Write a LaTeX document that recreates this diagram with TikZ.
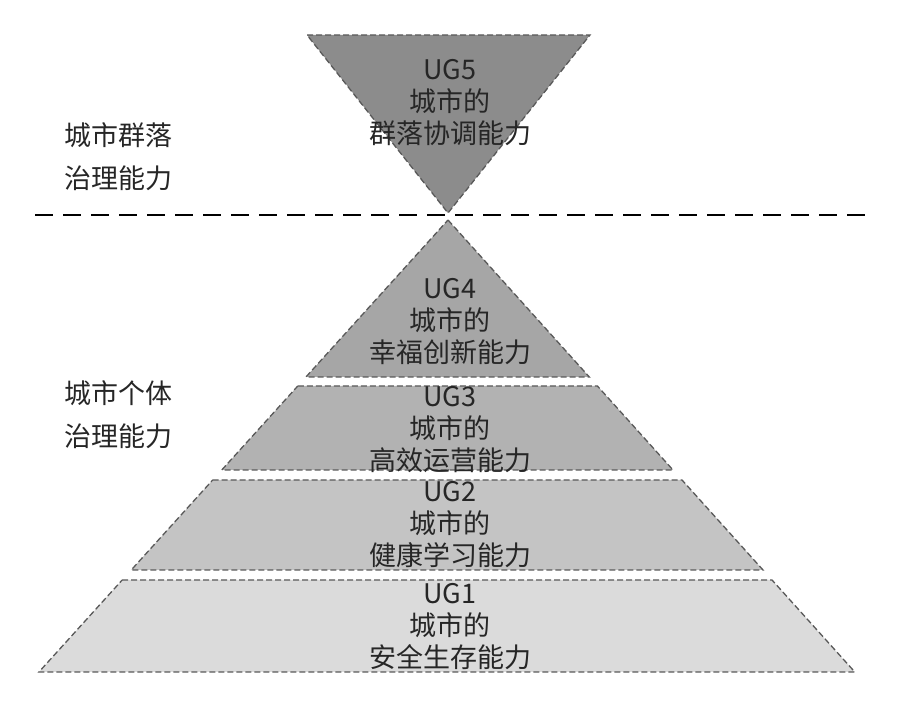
\documentclass[tikz,border=0pt]{standalone}
\usepackage{fontspec}
\setmainfont{Noto Sans CJK SC}
\begin{document}
\begin{tikzpicture}[x=1pt,y=-1pt,
  layer/.style={draw=black!65,dashed,line width=1.3pt,dash pattern=on 6pt off 3pt},
  lab/.style={font=\fontsize{27}{32}\selectfont,align=center,text=black!85,inner sep=0},
  side/.style={font=\fontsize{27}{43}\selectfont,align=left,text=black!85,inner sep=0,anchor=north west}]
\useasboundingbox (0,0) rectangle (898,708);
\def\L#1{448-0.905*(#1-220)}
\def\R#1{448+0.9*(#1-220)}
\filldraw[layer,fill=black!45] (307,35) -- (590,35) -- (448,213) -- cycle;
\draw[dashed,line width=1.5pt,dash pattern=on 18pt off 10pt] (35,215) coordinate(d1) -- (865,215) coordinate(d2);
\filldraw[layer,fill=black!35] (448,220) -- ({\R{377}},377) -- ({\L{377}},377) -- cycle;
\filldraw[layer,fill=black!30] ({\L{386}},386) -- ({\R{386}},386) -- ({\R{470}},470) -- ({\L{470}},470) -- cycle;
\filldraw[layer,fill=black!23] ({\L{480}},480) -- ({\R{480}},480) -- ({\R{570}},570) -- ({\L{570}},570) -- cycle;
\filldraw[layer,fill=black!14] ({\L{580}},580) -- ({\R{580}},580) -- ({\R{672}},672) -- ({\L{672}},672) -- cycle;
\node[lab] (u5) at (450,103) {UG5\\城市的\\群落协调能力};
\node[lab] (u4) at (450,322) {UG4\\城市的\\幸福创新能力};
\node[lab] (u3) at (450,430) {UG3\\城市的\\高效运营能力};
\node[lab] (u2) at (450,525) {UG2\\城市的\\健康学习能力};
\node[lab] (u1) at (450,627) {UG1\\城市的\\安全生存能力};
\node[side] (s1) at (64,122) {城市群落\\治理能力};
\node[side] (s2) at (64,380) {城市个体\\治理能力};
\end{tikzpicture}
\end{document}
